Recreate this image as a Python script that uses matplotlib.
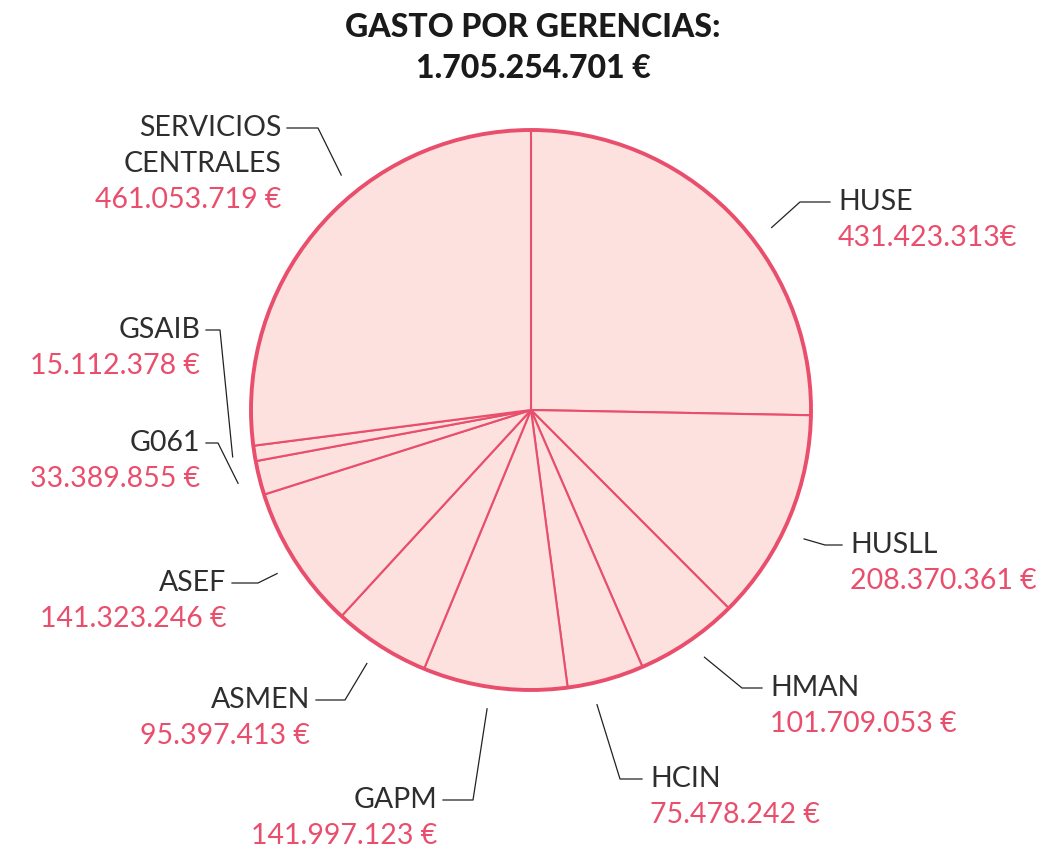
import matplotlib
matplotlib.use('Agg')
import matplotlib.pyplot as plt
from matplotlib.patches import Circle
import numpy as np

# data, clockwise from 12 o'clock
names = ['HUSE', 'HUSLL', 'HMAN', 'HCIN', 'GAPM', 'ASMEN', 'ASEF', 'G061', 'GSAIB',
         'SERVICIOS\nCENTRALES']
amounts = [431423313, 208370361, 101709053, 75478242, 141997123, 95397413,
           141323246, 33389855, 15112378, 461053719]
amount_labels = ['431.423.313€', '208.370.361 €', '101.709.053 €', '75.478.242 €',
                 '141.997.123 €', '95.397.413 €', '141.323.246 €', '33.389.855 €',
                 '15.112.378 €', '461.053.719 €']
title = 'GASTO POR GERENCIAS:\n1.705.254.701 €'

PINK = '#E94E6C'
FILL = '#FCE1DE'
GREY = '#2e2e2e'
W, H = 1055, 848

def Y(y):  # pixel row -> data y
    return H - y

# layout: label anchor (px), alignment, elbow (px), where on the wedge the leader points (0..1)
layout = [
    ((838, 202), 'left', (800, 202), 0.58),
    ((850, 545), 'left', (825, 545), 0.55),
    ((770, 688), 'left', (742, 688), 0.46),
    ((650, 779), 'left', (620, 779), 0.68),
    ((437, 800), 'right', (473, 800), 0.53),
    ((310, 700), 'right', (345, 700), 0.52),
    ((226, 583), 'right', (258, 583), 0.49),
    ((200, 443), 'right', (218, 443), 0.5),
    ((200, 330), 'right', (220, 330), 0.5),
    ((281, 128), 'right', (318, 128), 0.6),
]

fig = plt.figure(figsize=(W / 100, H / 100), dpi=100)
ax = fig.add_axes([0, 0, 1, 1])
ax.axis('off')

cx, cy, R = 531, Y(410), 280
ax.pie(amounts, center=(cx, cy), radius=R, startangle=90, counterclock=False,
       colors=[FILL] * len(amounts),
       wedgeprops=dict(edgecolor=PINK, linewidth=1.5))
ax.add_patch(Circle((cx, cy), R, fill=False, edgecolor=PINK, linewidth=2.8, zorder=3))
ax.set_xlim(0, W)
ax.set_ylim(0, H)
ax.set_aspect('equal')

fam = ['Lato', 'DejaVu Sans']
ax.text(533, Y(48), title, ha='center', va='center', fontsize=23, fontweight='black',
        color='#1a1a1a', family=fam, linespacing=1.5)

total = float(sum(amounts))
start = 90.0
for i in range(len(names)):
    span = 360.0 * amounts[i] / total
    (lx, ly), al, (ex, ey), frac = layout[i]
    ang = np.radians(start - span * frac)
    start -= span
    px = cx + 302 * np.cos(ang)
    py = cy + 302 * np.sin(ang)
    gap = 6 if al == 'right' else -8
    ax.plot([lx + gap, ex, px], [Y(ly), Y(ey), py], color='#222222', lw=0.9)
    parts = names[i].split('\n')
    for k, part in enumerate(parts):
        ax.text(lx, Y(ly + 36 * k), part, ha=al, va='center', fontsize=20.5,
                color=GREY, family=fam)
    ax.text(lx, Y(ly + 36 * len(parts)), amount_labels[i], ha=al, va='center',
            fontsize=20.5, color=PINK, family=fam)

fig.savefig('out.png', dpi=100, facecolor='white')
